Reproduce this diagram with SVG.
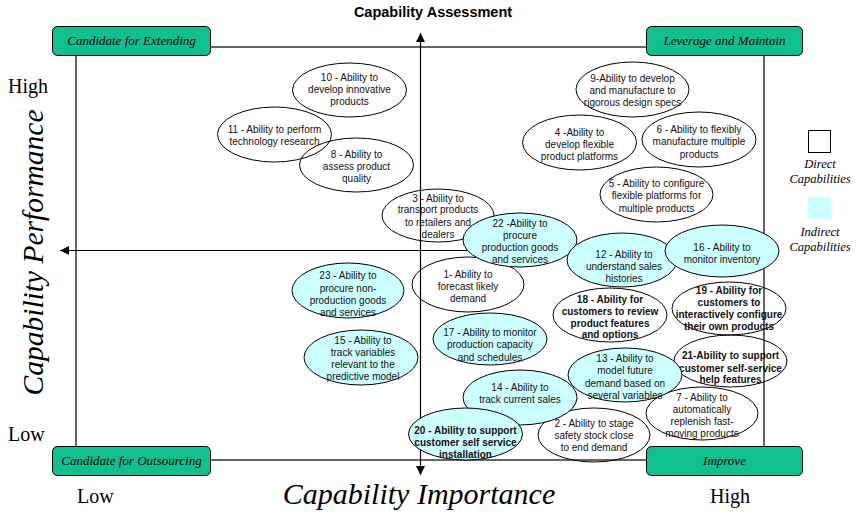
<svg xmlns="http://www.w3.org/2000/svg" width="857" height="518" viewBox="0 0 857 518">
<defs>
<marker id="arr" viewBox="0 0 10 10" refX="10" refY="5" markerWidth="9" markerHeight="9" markerUnits="userSpaceOnUse" orient="auto-start-reverse">
<path d="M0,0 L10,5 L0,10 z" fill="#000"/>
</marker>
</defs>
<style>
.w{fill:none;stroke:#000;stroke-width:1}
.c{fill:#ccffff;stroke:#000;stroke-width:1}
.t{font-family:"Liberation Sans",Arial,sans-serif;font-size:10px;fill:#111;text-anchor:middle}
.b{font-weight:bold}
.box{fill:#12c08f;stroke:#000;stroke-width:1}
.bt{font-family:"Liberation Serif","Times New Roman",serif;font-style:italic;font-size:13px;fill:#000;text-anchor:middle}
.ax{stroke:#000;stroke-width:1.2;fill:none}
.lbl{font-family:"Liberation Serif","Times New Roman",serif;fill:#000}
.lg{font-family:"Liberation Serif","Times New Roman",serif;font-style:italic;font-size:12.5px;fill:#000;text-anchor:middle}
</style>
<rect width="857" height="518" fill="#fff"/>

<!-- white (direct) capability nodes -->
<g id="n10"><ellipse class="w" cx="349.5" cy="90" rx="57" ry="27"/><text class="t"><tspan x="349.5" y="81">10 - Ability to</tspan><tspan x="349.5" y="93">develop innovative</tspan><tspan x="349.5" y="105">products</tspan></text></g>
<g id="n11"><ellipse class="w" cx="274.5" cy="134.5" rx="57" ry="27.5"/><text class="t"><tspan x="274.5" y="133">11 - Ability to perform</tspan><tspan x="274.5" y="145">technology research</tspan></text></g>
<g id="n8"><ellipse class="w" cx="356.5" cy="165" rx="57" ry="27"/><text class="t"><tspan x="356.5" y="158">8 - Ability to</tspan><tspan x="356.5" y="170">assess product</tspan><tspan x="356.5" y="182">quality</tspan></text></g>
<g id="n3"><ellipse class="w" cx="438" cy="215.5" rx="56" ry="26.5"/><text class="t"><tspan x="438" y="202">3 - Ability to</tspan><tspan x="438" y="213">transport products</tspan><tspan x="438" y="226">to retailers and</tspan><tspan x="438" y="238">dealers</tspan></text></g>
<g id="n1"><ellipse class="w" cx="468" cy="284.5" rx="56" ry="27.5"/><text class="t"><tspan x="468" y="278">1- Ability to</tspan><tspan x="468" y="290">forecast likely</tspan><tspan x="468" y="302">demand</tspan></text></g>
<g id="n9"><ellipse class="w" cx="632.5" cy="89.5" rx="56.5" ry="27.5"/><text class="t"><tspan x="632.5" y="82">9-Ability to develop</tspan><tspan x="632.5" y="94">and manufacture to</tspan><tspan x="632.5" y="106">rigorous design specs</tspan></text></g>
<g id="n4"><ellipse class="w" cx="579.5" cy="142.5" rx="57" ry="27.5"/><text class="t"><tspan x="579.5" y="136">4 -Ability to</tspan><tspan x="579.5" y="148">develop flexible</tspan><tspan x="579.5" y="160">product platforms</tspan></text></g>
<g id="n6"><ellipse class="w" cx="699" cy="139.5" rx="57" ry="27.5"/><text class="t"><tspan x="699" y="133">6 - Ability to flexibly</tspan><tspan x="699" y="145">manufacture multiple</tspan><tspan x="699" y="158">products</tspan></text></g>
<g id="n5"><ellipse class="w" cx="656.5" cy="194.5" rx="56.5" ry="27.5"/><text class="t"><tspan x="656.5" y="187">5 - Ability to configure</tspan><tspan x="656.5" y="199">flexible platforms for</tspan><tspan x="656.5" y="212">multiple products</tspan></text></g>
<g id="n18"><ellipse class="w" cx="610" cy="315" rx="57" ry="27"/><text class="t b"><tspan x="610" y="303">18 - Ability for</tspan><tspan x="610" y="315">customers to review</tspan><tspan x="610" y="327">product features</tspan><tspan x="610" y="338">and options</tspan></text></g>
<g id="n19"><ellipse class="w" cx="729" cy="308.5" rx="57" ry="26.5"/><text class="t b"><tspan x="729" y="294">19 - Ability for</tspan><tspan x="729" y="306">customers to</tspan><tspan x="729" y="318">interactively configure</tspan><tspan x="729" y="330">their own products</tspan></text></g>
<g id="n21"><ellipse class="w" cx="730.5" cy="361" rx="56.5" ry="26"/><text class="t b"><tspan x="730.5" y="359">21-Ability to support</tspan><tspan x="730.5" y="372">customer self-service</tspan><tspan x="730.5" y="383">help features</tspan></text></g>
<g id="n7"><ellipse class="w" cx="702" cy="413.5" rx="56" ry="26.5"/><text class="t"><tspan x="702" y="401">7 - Ability to</tspan><tspan x="702" y="413">automatically</tspan><tspan x="702" y="425">replenish fast-</tspan><tspan x="702" y="437">moving products</tspan></text></g>
<g id="n2"><ellipse class="w" cx="594" cy="435" rx="56" ry="27"/><text class="t"><tspan x="594" y="427">2 - Ability to stage</tspan><tspan x="594" y="439">safety stock close</tspan><tspan x="594" y="451">to end demand</tspan></text></g>

<!-- frame and axes -->
<g id="connectors">
<rect class="ax" x="76" y="47" width="688" height="413"/>
<line class="ax" x1="420.5" y1="33" x2="420.5" y2="475" marker-start="url(#arr)" marker-end="url(#arr)"/>
<line class="ax" x1="60" y1="250.5" x2="764" y2="250.5" marker-start="url(#arr)"/>
</g>

<!-- cyan (indirect) capability nodes -->
<g id="n22"><ellipse class="c" cx="520" cy="240" rx="57" ry="27"/><text class="t"><tspan x="520" y="227">22 -Ability to</tspan><tspan x="520" y="239">procure</tspan><tspan x="520" y="251">production goods</tspan><tspan x="520" y="263">and services</tspan></text></g>
<g id="n12"><ellipse class="c" cx="622" cy="260" rx="55" ry="27"/><text class="t"><tspan x="624" y="258">12 - Ability to</tspan><tspan x="624" y="270">understand sales</tspan><tspan x="624" y="282">histories</tspan></text></g>
<g id="n16"><ellipse class="c" cx="722" cy="251" rx="57" ry="26"/><text class="t"><tspan x="722" y="251">16 - Ability to</tspan><tspan x="722" y="263">monitor inventory</tspan></text></g>
<g id="n23"><ellipse class="c" cx="348" cy="290.5" rx="56" ry="27.5"/><text class="t"><tspan x="348" y="279">23 - Ability to</tspan><tspan x="348" y="292">procure non-</tspan><tspan x="348" y="304">production goods</tspan><tspan x="348" y="316">and services</tspan></text></g>
<g id="n15"><ellipse class="c" cx="361" cy="357.5" rx="57" ry="27.5"/><text class="t"><tspan x="363" y="344">15 - Ability to</tspan><tspan x="363" y="356">track variables</tspan><tspan x="363" y="368">relevant to the</tspan><tspan x="363" y="380">predictive model</tspan></text></g>
<g id="n17"><ellipse class="c" cx="490" cy="339" rx="57" ry="26"/><text class="t"><tspan x="490" y="336">17 - Ability to monitor</tspan><tspan x="490" y="348">production capacity</tspan><tspan x="490" y="361">and schedules</tspan></text></g>
<g id="n14"><ellipse class="c" cx="520" cy="397.5" rx="57" ry="27.5"/><text class="t"><tspan x="520" y="391">14 - Ability to</tspan><tspan x="520" y="403">track current sales</tspan></text></g>
<g id="n13"><ellipse class="c" cx="625" cy="375" rx="57" ry="27"/><text class="t"><tspan x="625" y="362">13 - Ability to</tspan><tspan x="625" y="374">model future</tspan><tspan x="625" y="387">demand based on</tspan><tspan x="625" y="399">several variables</tspan></text></g>
<g id="n20"><ellipse class="c" cx="465.5" cy="434" rx="57" ry="26"/><text class="t b"><tspan x="465.5" y="434">20 - Ability to support</tspan><tspan x="465.5" y="446">customer self service</tspan><tspan x="465.5" y="458">installation</tspan></text></g>

<!-- quadrant labels -->
<g id="q-extending"><rect class="box" x="52.5" y="26.5" width="158" height="29" rx="5"/><text class="bt" x="131.5" y="45">Candidate for Extending</text></g>
<g id="q-leverage"><rect class="box" x="646.5" y="26.5" width="156" height="29" rx="5"/><text class="bt" x="724.5" y="45">Leverage and Maintain</text></g>
<g id="q-outsourcing"><rect class="box" x="52.5" y="446.5" width="158" height="29" rx="5"/><text class="bt" x="131.5" y="465">Candidate for Outsourcing</text></g>
<g id="q-improve"><rect class="box" x="646.5" y="446.5" width="156" height="29" rx="5"/><text class="bt" x="724.5" y="465">Improve</text></g>

<!-- legend -->
<g id="legend">
<rect x="808.5" y="130.5" width="22" height="22" fill="#fff" stroke="#000" stroke-width="1"/>
<text class="lg"><tspan x="820" y="168">Direct</tspan><tspan x="820" y="183">Capabilities</tspan></text>
<rect x="808" y="197" width="23" height="22" fill="#ccffff"/>
<text class="lg"><tspan x="820" y="236">Indirect</tspan><tspan x="820" y="251">Capabilities</tspan></text>
</g>

<!-- titles and axis labels -->
<g id="labels">
<text x="433" y="17" font-family="'Liberation Sans',Arial,sans-serif" font-weight="bold" font-size="14.5" text-anchor="middle" fill="#000">Capability Assessment</text>
<text class="lbl" x="8" y="93" font-size="20">High</text>
<text class="lbl" x="8" y="441" font-size="20">Low</text>
<text class="lbl" x="77" y="503" font-size="20">Low</text>
<text class="lbl" x="710" y="503" font-size="20">High</text>
<text class="lbl" x="419" y="504" font-size="30" font-style="italic" text-anchor="middle">Capability Importance</text>
<text class="lbl" font-size="29.5" font-style="italic" text-anchor="middle" transform="translate(43,252.5) rotate(-90)">Capability Performance</text>
</g>
</svg>
